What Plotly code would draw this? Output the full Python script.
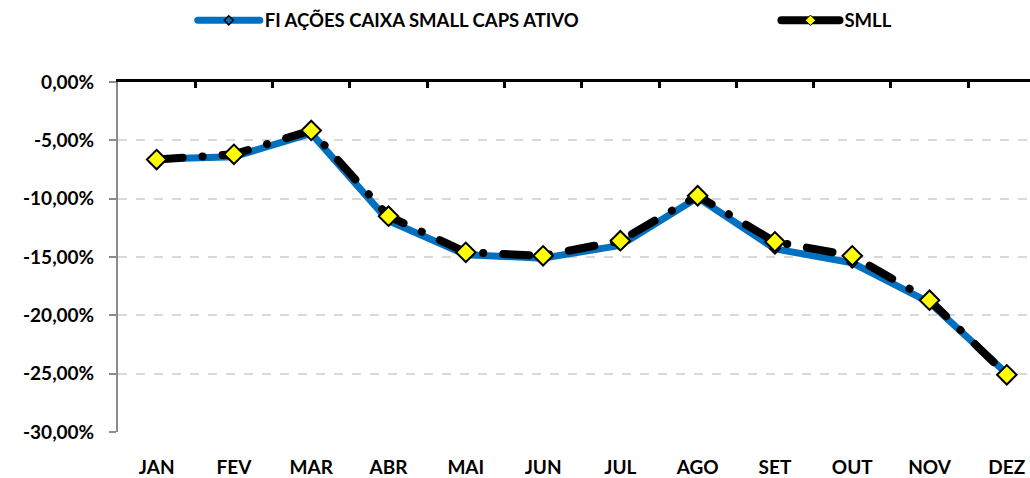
import plotly.graph_objects as go

months = ["JAN", "FEV", "MAR", "ABR", "MAI", "JUN", "JUL", "AGO", "SET", "OUT", "NOV", "DEZ"]
fundo = [-6.6, -6.4, -4.4, -11.9, -14.8, -15.1, -14.0, -9.9, -14.3, -15.5, -18.9, -25.0]
smll = [-6.65, -6.2, -4.15, -11.5, -14.6, -14.9, -13.6, -9.75, -13.7, -14.9, -18.7, -25.1]
ytick_vals = [0, -5, -10, -15, -20, -25, -30]
ytick_text = ["0,00%", "-5,00%", "-10,00%", "-15,00%", "-20,00%", "-25,00%", "-30,00%"]
name_fundo = "FI AÇÕES CAIXA SMALL CAPS ATIVO"
name_smll = "SMLL"

FONT = "Lato"
BLUE = "#0070C0"
xs = list(range(len(months)))

fig = go.Figure()
fig.add_trace(go.Scatter(
    x=xs, y=fundo, name=name_fundo, mode="lines+markers",
    line=dict(color=BLUE, width=7),
    marker=dict(symbol="diamond", size=8, color=BLUE, line=dict(color="black", width=1.5)),
    showlegend=False,
))
fig.add_trace(go.Scatter(
    x=xs, y=smll, name=name_smll, mode="lines+markers",
    line=dict(color="black", width=8, dash="26px,20px,0.1px,20px"),
    marker=dict(symbol="diamond", size=15, color="#FFFF00", line=dict(color="black", width=2)),
    showlegend=False,
))
# legend entries (same series, legend styling)
fig.add_trace(go.Scatter(
    x=[None], y=[None], name=name_fundo, mode="lines+markers",
    line=dict(color=BLUE, width=7),
    marker=dict(symbol="diamond", size=7, color=BLUE, line=dict(color="black", width=1.5)),
    legend="legend",
))
fig.add_trace(go.Scatter(
    x=[None], y=[None], name=name_smll, mode="lines+markers",
    line=dict(color="black", width=8),
    marker=dict(symbol="diamond", size=8, color="#FFFF00", line=dict(color="black", width=1)),
    legend="legend2",
))
# invisible trace for top axis
fig.add_trace(go.Scatter(x=[-0.5], y=[0], xaxis="x2", mode="markers",
                         marker=dict(opacity=0), showlegend=False, hoverinfo="skip"))

legfont = dict(family=FONT, size=18.5, color="black", weight="bold")
XR = [-0.5, 11.3]
fig.update_layout(
    width=1030, height=478,
    margin=dict(l=118, r=0, t=82, b=37),
    plot_bgcolor="white", paper_bgcolor="white",
    font=dict(family=FONT, size=16, color="black"),
    xaxis=dict(
        range=XR, tickmode="array", tickvals=xs, ticktext=months,
        showline=False, showgrid=False, zeroline=False, ticks="",
        ticklabelstandoff=22,
        tickfont=dict(family=FONT, size=19, color="black", weight="bold"),
    ),
    xaxis2=dict(
        overlaying="x", side="top", range=XR,
        tickmode="array", tickvals=[i - 0.5 for i in range(13)],
        showticklabels=False, ticks="inside", ticklen=6, tickwidth=3, tickcolor="black",
        showline=True, linecolor="black", linewidth=3,
        showgrid=False, zeroline=False,
    ),
    yaxis=dict(
        range=[-30, 0], tickmode="array", tickvals=ytick_vals, ticktext=ytick_text,
        showline=True, linecolor="#8c8c8c", linewidth=2,
        ticks="outside", ticklen=7, tickcolor="#8c8c8c", tickwidth=2,
        showgrid=True, gridcolor="#d9d9d9", griddash="dash", gridwidth=1.5,
        zeroline=False,
        ticklabelstandoff=11,
        tickfont=dict(family=FONT, size=19, color="black", weight="bold"),
    ),
    legend=dict(
        orientation="h", x=0.082, y=1.175, xanchor="left", yanchor="middle",
        font=legfont, itemwidth=62, bgcolor="rgba(0,0,0,0)",
    ),
    legend2=dict(
        orientation="h", x=0.722, y=1.175, xanchor="left", yanchor="middle",
        font=legfont, itemwidth=58, bgcolor="rgba(0,0,0,0)",
    ),
    showlegend=True,
)

post = """
document.body.style.margin='0';
function fixCaps(){
  document.querySelectorAll('.scatterlayer .js-line, .legendlines path').forEach(function(p){
    p.style.strokeLinecap='round'; p.style.strokeLinejoin='round';
  });
}
fixCaps(); setTimeout(fixCaps, 50); setTimeout(fixCaps, 300);
"""
fig.write_html("out.html", post_script=post, config={"displayModeBar": False})
